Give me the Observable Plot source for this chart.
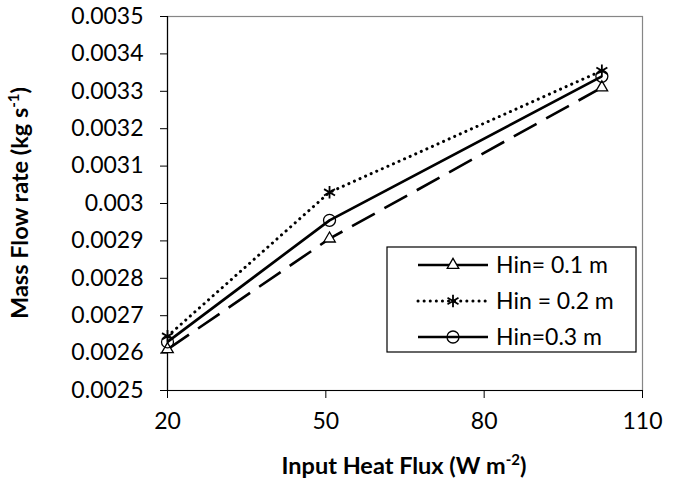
<!DOCTYPE html>
<html><head><meta charset="utf-8">
<script src="https://cdn.jsdelivr.net/npm/d3@7"></script>
<script src="https://cdn.jsdelivr.net/npm/@observablehq/plot@0.6"></script>
<style>
body{margin:0;background:#fff}
#chart{position:relative;width:677px;height:480px}
</style>
</head><body><div id="chart"></div>
<script>
// ---- data ----
const heatFlux = [20, 50.7, 102.3];
const seriesNames = ["Hin= 0.1 m", "Hin = 0.2 m", "Hin=0.3 m"];
const hin01 = [0.00261, 0.002906, 0.00331];
const hin02 = [0.002645, 0.00303, 0.003355];
const hin03 = [0.00263, 0.002955, 0.00334];
const xTicks = [20, 50, 80, 110];
const yTicks = [0.0025, 0.0026, 0.0027, 0.0028, 0.0029, 0.003, 0.0031, 0.0032, 0.0033, 0.0034, 0.0035];
const xTitle = ["Input Heat Flux (W m", "-2", ")"];
const yTitle = ["Mass Flow rate (kg s", "-1", ")"];

const seriesValues = [hin01, hin02, hin03];
const rows = seriesValues.flatMap((vals, i) => vals.map((v, j) => ({x: heatFlux[j], y: v, s: seriesNames[i]})));
const bySeries = name => rows.filter(r => r.s === name);

const styles = [
  {dash: "26,11", cap: "butt", width: 2.6, symbol: "triangle", fill: "white", r: 4.3, sw: 1.3},
  {dash: "0.1,6", cap: "round", width: 3, symbol: "asterisk", fill: "none", r: 6, sw: 1.8},
  {dash: null, cap: "butt", width: 2.7, symbol: "circle", fill: "none", r: 6, sw: 1.3}
];

const fmt = d => String(+d.toFixed(4));

const lineMarks = seriesNames.map((name, i) => Plot.line(bySeries(name), {
  x: "x", y: "y", stroke: "#000", strokeWidth: styles[i].width,
  strokeDasharray: styles[i].dash, strokeLinecap: styles[i].cap, strokeLinejoin: "round"
}));
const dotMarks = seriesNames.map((name, i) => Plot.dot(bySeries(name), {
  x: "x", y: "y", symbol: styles[i].symbol, r: styles[i].r,
  stroke: "#000", fill: styles[i].fill, strokeWidth: styles[i].sw
}));

const chart = Plot.plot({
  width: 677, height: 480,
  marginLeft: 167, marginRight: 35, marginTop: 16, marginBottom: 90,
  style: {fontFamily: "Lato", fontSize: "23px", color: "#000", background: "#fff", overflow: "visible"},
  x: {domain: [20, 110], label: null},
  y: {domain: [0.0025, 0.0035], label: null},
  marks: [
    Plot.frame({stroke: "#868686", strokeWidth: 1.2}),
    Plot.axisX({ticks: xTicks, tickSize: 8, tickPadding: 14, label: null, tickFormat: d => String(d), stroke: "#000"}),
    Plot.axisY({ticks: yTicks, tickSize: 7, tickPadding: 17, label: null, tickFormat: fmt, stroke: "#000"}),
    Plot.ruleX([20], {stroke: "#000", strokeWidth: 1.2}),
    Plot.ruleY([0.0025], {stroke: "#000", strokeWidth: 1.2}),
    ...lineMarks,
    ...dotMarks
  ]
});
document.getElementById("chart").appendChild(chart);

const svg = d3.select(chart);

// axis titles
function title(sel, parts) {
  sel.append("tspan").text(parts[0]);
  sel.append("tspan").attr("font-size", 15).attr("dy", -9).text(parts[1]);
  sel.append("tspan").attr("dy", 9).text(parts[2]);
}
const xt = svg.append("text").attr("x", 404).attr("y", 474)
  .attr("text-anchor", "middle").attr("font-weight", "bold").attr("font-size", 23.5).attr("fill", "#000");
title(xt, xTitle);
const yt = svg.append("text").attr("transform", "translate(28,203) rotate(-90)")
  .attr("text-anchor", "middle").attr("font-weight", "bold").attr("font-size", 23.5).attr("fill", "#000");
title(yt, yTitle);

// legend
const lg = svg.append("g");
lg.append("rect").attr("x", 387).attr("y", 247).attr("width", 249).attr("height", 105)
  .attr("fill", "#fff").attr("stroke", "#000").attr("stroke-width", 1.2);
const rowY = [265, 301, 337];
const symMap = {triangle: d3.symbolTriangle, asterisk: d3.symbolAsterisk, circle: d3.symbolCircle};
seriesNames.forEach((name, i) => {
  const st = styles[i];
  lg.append("line").attr("x1", 418).attr("x2", 488).attr("y1", rowY[i]).attr("y2", rowY[i])
    .attr("stroke", "#000").attr("stroke-width", st.width)
    .attr("stroke-dasharray", st.dash && i === 1 ? st.dash : null)
    .attr("stroke-linecap", st.cap);
  lg.append("path").attr("transform", `translate(453,${rowY[i]})`)
    .attr("d", d3.symbol(symMap[st.symbol], Math.PI * st.r * st.r)())
    .attr("fill", st.fill).attr("stroke", "#000").attr("stroke-width", st.sw);
  lg.append("text").attr("x", 496).attr("y", rowY[i]).attr("dy", "0.36em")
    .attr("text-anchor", "start")
    .attr("font-size", 23).attr("fill", "#000").text(name);
});
</script>
</body></html>
